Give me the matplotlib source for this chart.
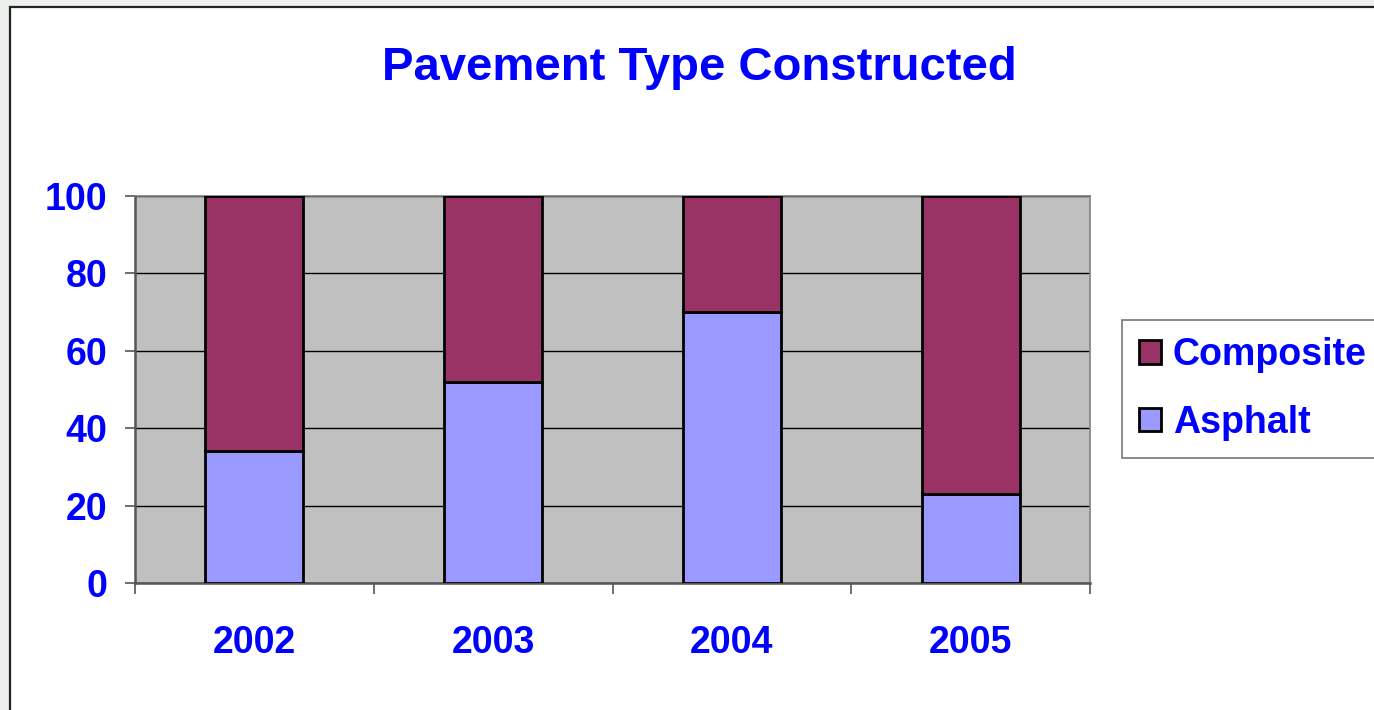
#!/usr/bin/env python
import numpy as np
import matplotlib
matplotlib.use('Agg')
import matplotlib.pyplot as plt
from matplotlib.patches import Rectangle

years = ['2002', '2003', '2004', '2005']
asphalt = [34, 52, 70, 23]
composite = [66, 48, 30, 77]
y_ticks = [0, 20, 40, 60, 80, 100]

BLUE = '#0000FF'
plt.rcParams['font.family'] = ['Liberation Sans', 'DejaVu Sans']
plt.rcParams['font.weight'] = 'bold'


def main():
    fig = plt.figure(figsize=(13.74, 7.10), dpi=100, facecolor='#EDEFED')

    # white chart frame with dark border (extends past right/bottom edge)
    frame = Rectangle((10 / 1374, -0.05), 1.1, 1 - 7 / 710 + 0.05,
                      transform=fig.transFigure, facecolor='white',
                      edgecolor='#222222', linewidth=1.6, zorder=-10)
    fig.patches.append(frame)

    ax = fig.add_axes([135 / 1374, 1 - 583 / 710, 955 / 1374, 387 / 710])
    ax.set_facecolor('#C0C0C0')

    x = np.arange(len(years))
    w = 0.41
    ax.bar(x, asphalt, w, color='#9999FF', edgecolor='black',
           linewidth=2, label='Asphalt', zorder=3)
    ax.bar(x, composite, w, bottom=asphalt, color='#993366',
           edgecolor='black', linewidth=2, label='Composite', zorder=3)

    ax.set_xlim(-0.5, len(years) - 0.5)
    ax.set_ylim(0, 100)
    ax.set_yticks(y_ticks)
    ax.yaxis.grid(True, color='black', linewidth=1)
    ax.set_axisbelow(True)

    ax.set_xticks(x)
    ax.set_xticklabels(years)
    ax.set_xticks(np.arange(len(years) + 1) - 0.5, minor=True)
    ax.tick_params(axis='x', which='major', length=0, pad=30,
                   labelsize=27, labelcolor=BLUE)
    ax.tick_params(axis='x', which='minor', length=8, width=1.2,
                   color='#555555', direction='out')
    ax.tick_params(axis='y', length=7, width=1.2, color='#555555',
                   pad=13, labelsize=27, labelcolor=BLUE)

    for side in ['left', 'bottom']:
        ax.spines[side].set_color('#555555')
        ax.spines[side].set_linewidth(1.8)
    for side in ['right', 'top']:
        ax.spines[side].set_color('#808080')
        ax.spines[side].set_linewidth(1.2)

    fig.text(699 / 1374, 1 - 68 / 710, 'Pavement Type Constructed',
             ha='center', va='center', color=BLUE, fontsize=34,
             fontweight='bold')

    handles, labels = ax.get_legend_handles_labels()
    leg = fig.legend(handles[::-1], labels[::-1],
                     loc='upper left',
                     bbox_to_anchor=(1122 / 1374, 1 - 320 / 710),
                     frameon=True, fancybox=False, fontsize=27,
                     handlelength=0.6, handleheight=0.6, handletextpad=0.3,
                     labelspacing=0.85, borderpad=0.45, borderaxespad=0)
    leg.get_frame().set_edgecolor('#555555')
    leg.get_frame().set_linewidth(1.2)
    for t in leg.get_texts():
        t.set_color(BLUE)

    fig.savefig('out.png', dpi=100, facecolor=fig.get_facecolor())


if __name__ == '__main__':
    main()
